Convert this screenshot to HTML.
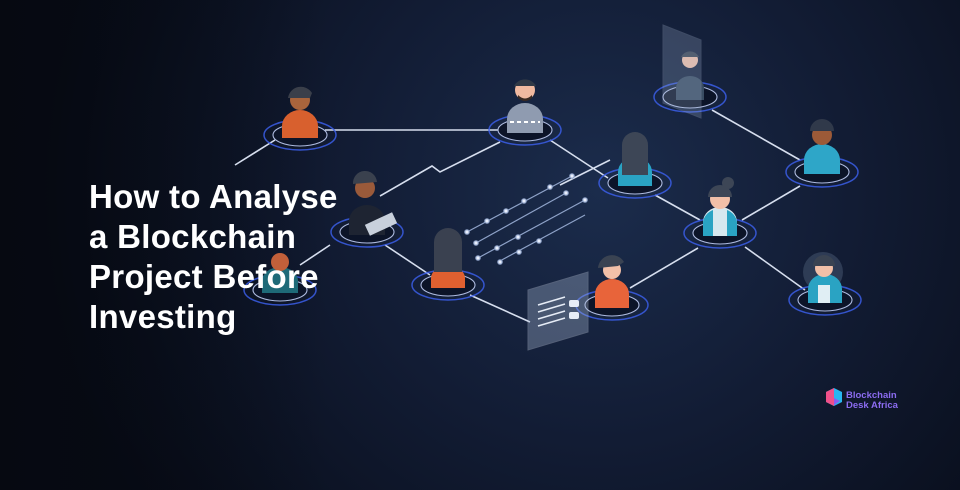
<!DOCTYPE html>
<html><head><meta charset="utf-8"><style>
html,body{margin:0;padding:0;background:#0b1222;}
.w{position:relative;width:960px;height:490px;overflow:hidden;}
svg{position:absolute;left:0;top:0;}
h1{position:absolute;left:89px;top:177px;margin:0;font:bold 33px/40px "Liberation Sans",sans-serif;color:#fff;letter-spacing:0.3px;}
.logo{position:absolute;left:846px;top:391px;font:bold 9.5px/10px "Liberation Sans",sans-serif;color:#8b6cf0;}
</style></head><body><div class="w">
<svg width="960" height="490" viewBox="0 0 960 490">
<defs>
<radialGradient id="bg" cx="600" cy="190" r="560" gradientUnits="userSpaceOnUse">
<stop offset="0" stop-color="#1b2c4c"/><stop offset="0.45" stop-color="#121c34"/><stop offset="1" stop-color="#070b16"/></radialGradient>
<linearGradient id="lf" x1="0" x2="1" y1="0" y2="0"><stop offset="0" stop-color="#05080f" stop-opacity="0.7"/><stop offset="1" stop-color="#05080f" stop-opacity="0"/></linearGradient>
<g id="ring"><ellipse rx="36" ry="15" fill="none" stroke="#3b5ee8" stroke-width="1.5" opacity="0.85"/><ellipse rx="27" ry="11" fill="#0c1428" stroke="#aebbe0" stroke-width="1.1"/></g>
</defs>
<rect width="960" height="490" fill="url(#bg)"/>
<rect x="0" y="0" width="330" height="490" fill="url(#lf)"/>
<g stroke="#d6deee" stroke-width="1.6" fill="none">
<line x1="325" y1="130" x2="500" y2="130"/>
<line x1="275" y1="140" x2="235" y2="165"/>
<polyline points="500,142 440,172 432,166 380,196"/>
<line x1="550" y1="140" x2="608" y2="178"/>
<line x1="712" y1="110" x2="800" y2="160"/>
<line x1="655" y1="195" x2="700" y2="220"/>
<line x1="742" y1="220" x2="800" y2="186"/>
<line x1="745" y1="247" x2="805" y2="290"/>
<line x1="630" y1="288" x2="698" y2="248"/>
<line x1="385" y1="245" x2="430" y2="275"/>
<line x1="470" y1="295" x2="530" y2="322"/>
<line x1="330" y1="245" x2="300" y2="265"/>
<line x1="560" y1="185" x2="610" y2="160" />
</g>
<g stroke="#8ea2c8" stroke-width="1.2" fill="#e8eefc">
<line x1="467" y1="232" x2="572" y2="176"/><line x1="476" y1="243" x2="566" y2="193"/>
<line x1="478" y1="258" x2="585" y2="200"/><line x1="498" y1="262" x2="585" y2="215"/>
<circle cx="467" cy="232" r="2.2"/><circle cx="487" cy="221" r="2.2"/><circle cx="506" cy="211" r="2.2"/><circle cx="524" cy="201" r="2.2"/><circle cx="550" cy="187" r="2.2"/><circle cx="572" cy="176" r="2.2"/>
<circle cx="476" cy="243" r="2.2"/><circle cx="566" cy="193" r="2.2"/>
<circle cx="478" cy="258" r="2.2"/><circle cx="497" cy="248" r="2.2"/><circle cx="518" cy="237" r="2.2"/><circle cx="585" cy="200" r="2.2"/>
<circle cx="500" cy="262" r="2.2"/><circle cx="519" cy="252" r="2.2"/><circle cx="539" cy="241" r="2.2"/>
</g>
<use href="#ring" x="300" y="135"/><use href="#ring" x="525" y="130"/><use href="#ring" x="690" y="97"/>
<use href="#ring" x="822" y="172"/><use href="#ring" x="635" y="183"/><use href="#ring" x="720" y="233"/>
<use href="#ring" x="367" y="232"/><use href="#ring" x="448" y="285"/><use href="#ring" x="612" y="305"/>
<use href="#ring" x="825" y="300"/><use href="#ring" x="280" y="290"/>
<g>
<path d="M282 138 v-12 a18 16 0 0 1 36 0 v12z" fill="#d8602e"/><circle cx="300" cy="100" r="10" fill="#a8643c"/><path d="M288 98 a13 13 0 0 1 24 -5 l-2 5z" fill="#3a3f4a"/>
<path d="M507 133 v-14 a18 16 0 0 1 36 0 v14z" fill="#8f9bb0"/><path d="M510 122 h30" stroke="#fff" stroke-dasharray="4 3" stroke-width="2"/><circle cx="525" cy="90" r="10" fill="#f0b9a0"/><path d="M514 86 a12 11 0 0 1 22 0z" fill="#303946"/><path d="M518 95 q7 7 14 0 v3 q-7 6 -14 0z" fill="#3a2a22"/>
<path d="M676 100 v-12 a14 12 0 0 1 28 0 v12z" fill="#3a4d63"/><circle cx="690" cy="60" r="8" fill="#f2c0a8"/><path d="M681 57 a10 10 0 0 1 18 0z" fill="#3a4352"/>
<path d="M663 25 l38 15 v78 l-38 -15z" fill="#9fb2d0" opacity="0.25" stroke="#b8c6e0" stroke-width="1"/>
<path d="M804 174 v-14 a18 16 0 0 1 36 0 v14z" fill="#2ea6c8"/><circle cx="822" cy="135" r="10" fill="#9c5a38"/><path d="M810 131 a12 12 0 0 1 24 0z" fill="#30394a"/>
<path d="M618 186 v-14 a17 15 0 0 1 34 0 v14z" fill="#2aa3c3"/><path d="M622 175 v-30 a13 13 0 0 1 26 0 v30z" fill="#3d4656"/>
<path d="M703 236 v-14 a17 15 0 0 1 34 0 v14z" fill="#d6e8ef"/><path d="M703 236 v-14 a17 15 0 0 1 10 -12 v26z M737 236 v-14 a17 15 0 0 0 -10 -12 v26z" fill="#2aa3c3"/><circle cx="720" cy="199" r="10" fill="#f2c0a8"/><path d="M708 197 a12 12 0 0 1 24 0z" fill="#3d4656"/><circle cx="728" cy="183" r="6" fill="#3d4656"/>
<path d="M349 235 v-14 a18 16 0 0 1 36 0 v14z" fill="#1e2432"/><circle cx="365" cy="188" r="10" fill="#9a5a3a"/><path d="M353 184 a12 12 0 0 1 24 -2z" fill="#3a414e"/><rect x="366" y="218" width="30" height="12" fill="#c8d0dc" transform="rotate(-25 381 224)"/>
<path d="M431 288 v-10 a17 12 0 0 1 34 0 v10z" fill="#e06030"/><path d="M434 272 v-30 a14 14 0 0 1 28 0 v30z" fill="#3a4150"/>
<path d="M595 308 v-14 a17 15 0 0 1 34 0 v14z" fill="#e8643a"/><circle cx="612" cy="270" r="9" fill="#f2c0a8"/><path d="M598 268 a14 14 0 0 1 26 -6 l-6 4z" fill="#3a4352"/>
<circle cx="823" cy="272" r="20" fill="#4a5a74" opacity="0.5"/>
<path d="M808 303 v-14 a17 15 0 0 1 34 0 v14z" fill="#2aa3c3"/><rect x="818" y="285" width="12" height="18" fill="#e0eef4"/><circle cx="824" cy="268" r="9" fill="#f2c0a8"/><path d="M813 266 a11 11 0 0 1 22 0z" fill="#3a4352"/>
<path d="M262 293 v-12 a18 14 0 0 1 36 0 v12z" fill="#1e6a78"/><circle cx="280" cy="262" r="9" fill="#c2603a"/>
<path d="M528 290 l60 -18 v60 l-60 18z" fill="#a8b8d2" opacity="0.35" stroke="#c8d2e4" stroke-width="1"/>
<g stroke="#e6ecf6" stroke-width="1.5"><line x1="538" y1="305" x2="565" y2="297"/><line x1="538" y1="312" x2="565" y2="304"/><line x1="538" y1="319" x2="565" y2="311"/><line x1="538" y1="326" x2="565" y2="318"/></g>
<rect x="569" y="300" width="10" height="7" rx="2" fill="#e6ecf6"/><rect x="569" y="312" width="10" height="7" rx="2" fill="#e6ecf6"/>
</g>
<path d="M826 392 l8 -4 8 4 v10 l-8 4 -8 -4z" fill="#29b6f0"/><path d="M826 392 l8 -4 v18 l-8 -4z" fill="#f0508a"/><path d="M834 398 l6 3 -6 4z" fill="#8b5cf0"/>
</svg>
<h1>How to Analyse<br>a Blockchain<br>Project Before<br>Investing</h1>
<div class="logo">Blockchain<br>Desk Africa</div>
</div></body></html>
